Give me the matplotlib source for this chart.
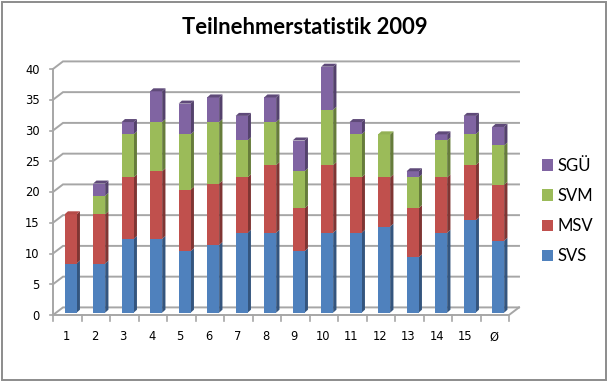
import matplotlib
matplotlib.use("Agg")
import matplotlib.pyplot as plt
from matplotlib.patches import Patch, Polygon, Rectangle
import numpy as np

categories = ["1","2","3","4","5","6","7","8","9","10","11","12","13","14","15","Ø"]
svs = [8,8,12,12,10,11,13,13,10,13,13,14,9,13,15,11.7]
msv = [8,8,10,11,10,10,9,11,7,11,9,8,8,9,9,9.1]
svm = [0,3,7,8,9,10,6,7,6,9,7,7,5,6,5,6.4]
sgu = [0,2,2,5,5,4,4,4,5,7,2,0,1,1,3,3.0]
series_names = ["SVS","MSV","SVM","SGÜ"]
series = [svs,msv,svm,sgu]
front = ["#4F81BD","#C0504D","#9BBB59","#8064A2"]
side = ["#34557E","#7F3533","#667C3B","#54426C"]
top = ["#4A79B2","#B54B48","#92B054","#5F4A79"]
yticks = [0,5,10,15,20,25,30,35,40]

W,H = 608,381
fig = plt.figure(figsize=(W/100,H/100),dpi=100,facecolor="white")
L,R,T,B = 53,509,69,315
ax = fig.add_axes([L/W,1-B/H,(R-L)/W,(B-T)/H])
ax.set_xlim(0,len(categories)); ax.set_ylim(0,40)
ax.axis("off")
px = (R-L)/len(categories); py = (B-T)/40
wx,wy = 10/px,7.6/py         # wall depth
ox,oy = 3.4/px,2.3/py        # bar offset from the front plane
dx,dy = 3.3/px,3.0/py        # bar depth
bw = 12/px
grid = "#A6A6A6"
for v in yticks:
    ax.plot([0,wx,len(categories)+wx],[v,v+wy,v+wy],color=grid,lw=1.4,clip_on=False,zorder=1,solid_joinstyle="miter")
    ax.plot([-3/px,0],[v,v],color=grid,lw=1.2,clip_on=False,zorder=1)
ax.plot([0,0],[0,40],color=grid,lw=1.4,zorder=1,clip_on=False)
ax.plot([0,len(categories),len(categories)+wx],[0,0,wy],color=grid,lw=1.4,clip_on=False,zorder=1)
for i in range(len(categories)+1):
    ax.plot([i,i],[0,-6/py],color=grid,lw=1.2,clip_on=False,zorder=1)

for i in range(len(categories)):
    base = 0.0
    x0 = i+0.5-bw/2+ox; x1 = x0+bw
    for s,vals in enumerate(series):
        v = vals[i]
        if v==0: continue
        y0,y1 = base+oy,base+v+oy
        ax.add_patch(Polygon([(x1,y0),(x1+dx,y0+dy),(x1+dx,y1+dy),(x1,y1)],closed=True,fc=side[s],ec="none",clip_on=False,zorder=3))
        ax.bar(i+0.5+ox,v,width=bw,bottom=y0,color=front[s],zorder=4,clip_on=False,linewidth=0)
        base += v
        last = s
    ax.add_patch(Polygon([(x0,y1),(x0+dx,y1+dy),(x1+dx,y1+dy),(x1,y1)],closed=True,fc=top[last],ec="none",clip_on=False,zorder=5))

tickfont = dict(family="DejaVu Sans",fontsize=8.3,color="#000000")
for v in yticks:
    ax.annotate(str(v),(0,v),xytext=(-13.5,-1),textcoords="offset pixels",ha="right",va="center",annotation_clip=False,**tickfont)
for i,c in enumerate(categories):
    ax.annotate(c,(i+0.5,0),xytext=(-1,-22),textcoords="offset pixels",ha="center",va="center",annotation_clip=False,**tickfont)

fig.text(304.5/W,1-28/H,"Teilnehmerstatistik 2009",ha="center",va="center",family="Lato",fontweight="bold",fontsize=15.8,color="black")
handles = [Patch(fc=front[i],ec="none",label=series_names[i]) for i in [3,2,1,0]]
fig.legend(handles=handles,loc="center left",bbox_to_anchor=(542/W,1-211/H),frameon=False,
           prop=dict(family="Lato",size=12),labelspacing=0.85,handlelength=0.66,handleheight=0.66,handletextpad=0.25,borderpad=0,borderaxespad=0,labelcolor="black")
fig.add_artist(Rectangle((1.5/W,1-379.5/H),(604.5)/W,378/H,transform=fig.transFigure,fc="none",ec="#8C8C8C",lw=1.4))
fig.savefig("out.png",dpi=100)
